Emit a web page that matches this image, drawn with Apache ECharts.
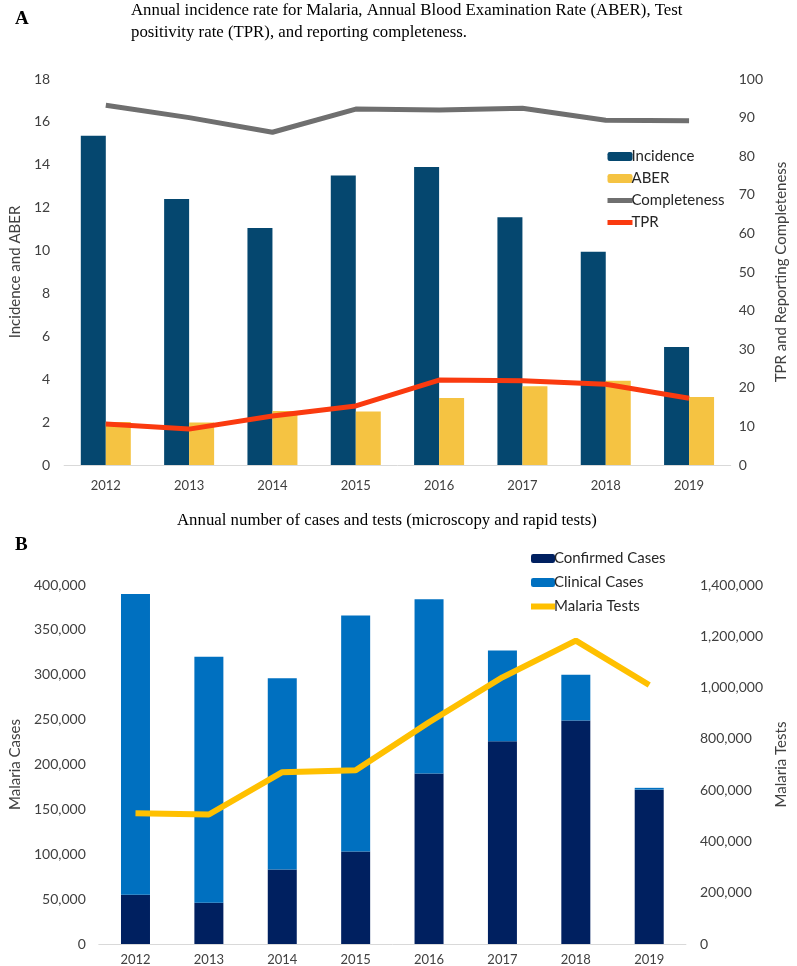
<!DOCTYPE html>
<html>
<head>
<meta charset="utf-8">
<script src="https://cdn.jsdelivr.net/npm/echarts@6/dist/echarts.min.js"></script>
<style>
html,body{margin:0;padding:0;background:#fff;}
#chart{width:797px;height:966px;}
</style>
</head>
<body>
<div id="chart"></div>
<script>
// ---- Data ----
const years = ['2012','2013','2014','2015','2016','2017','2018','2019'];
// Panel A
const incidence = [15.35, 12.4, 11.05, 13.5, 13.9, 11.55, 9.95, 5.5];
const aber = [2.0, 1.98, 2.52, 2.49, 3.12, 3.67, 3.93, 3.17];
const completeness = [93.2, 90.0, 86.2, 92.2, 92.0, 92.4, 89.3, 89.2];
const tpr = [10.6, 9.3, 12.7, 15.3, 22.0, 21.8, 20.9, 17.3];
// Panel B
const confirmed = [55000, 46000, 83000, 103000, 190000, 226000, 249000, 172000];
const clinical = [335000, 274000, 213000, 263000, 194000, 101000, 51000, 2000];
const tests = [510000, 505000, 670000, 678000, 865000, 1040000, 1183000, 1010000];

const titleA = 'Annual incidence rate for Malaria, Annual Blood Examination Rate (ABER), Test\npositivity rate (TPR), and reporting completeness.';
const titleB = 'Annual number of cases and tests (microscopy and rapid tests)';

const sans = 'Lato, "Open Sans", sans-serif';
const serif = '"Liberation Serif", "DejaVu Serif", serif';
const labelColor = '#404040';
const fmt = v => v.toLocaleString('en-US');

const chart = echarts.init(document.getElementById('chart'), null, {renderer:'canvas'});

const axisLabel = {color: labelColor, fontFamily: sans, fontSize: 14};
const nameStyle = {color: labelColor, fontFamily: sans, fontSize: 15};
const hideSym = {opacity: 0};

chart.setOption({
  animation: false,
  backgroundColor: '#fff',
  title: [
    {text: 'A', left: 10, top: 5, textStyle: {fontFamily: serif, fontWeight: 'bold', fontSize: 19, color: '#000'}},
    {text: titleA, left: 131, top: 0, padding: 0, textStyle: {fontFamily: serif, fontWeight: 'normal', fontSize: 16.8, lineHeight: 22, color: '#000'}},
    {text: 'B', left: 10, top: 531, textStyle: {fontFamily: serif, fontWeight: 'bold', fontSize: 19, color: '#000'}},
    {text: titleB, left: 172, top: 507, textStyle: {fontFamily: serif, fontWeight: 'normal', fontSize: 16.8, color: '#000'}}
  ],
  legend: [
    {
      orient: 'vertical', left: 600, top: 143, itemWidth: 25, itemHeight: 9, itemGap: 5,
      textStyle: {fontFamily: sans, fontSize: 15, color: '#262626', padding: [0,0,0,-6], lineHeight: 17},
      data: ['Incidence', 'ABER',
        {name: 'Completeness', itemStyle: hideSym, lineStyle: {width: 5}},
        {name: 'TPR', itemStyle: hideSym, lineStyle: {width: 5}}]
    },
    {
      orient: 'vertical', left: 523, top: 545, itemWidth: 24, itemHeight: 9, itemGap: 7,
      textStyle: {fontFamily: sans, fontSize: 15, color: '#262626', padding: [0,0,0,-6], lineHeight: 17},
      data: ['Confirmed Cases', 'Clinical Cases', {name: 'Malaria Tests', itemStyle: hideSym, lineStyle: {width: 6}}]
    }
  ],
  grid: [
    {left: 56, right: 58, top: 79, height: 386},
    {left: 85, right: 105, top: 585, height: 363}
  ],
  xAxis: [
    {type: 'category', gridIndex: 0, data: years,
     axisLine: {lineStyle: {color: '#D9D9D9', width: 1}}, axisTick: {show: false},
     axisLabel: {color: labelColor, fontFamily: sans, fontSize: 13, margin: 14}},
    {type: 'category', gridIndex: 1, data: years,
     axisLine: {lineStyle: {color: '#D9D9D9', width: 1}}, axisTick: {show: false},
     axisLabel: {color: labelColor, fontFamily: sans, fontSize: 13, margin: 9}}
  ],
  yAxis: [
    {type: 'value', gridIndex: 0, min: 0, max: 18, interval: 2, position: 'left',
     name: 'Incidence and ABER', nameLocation: 'middle', nameGap: 34, nameRotate: 90, nameTextStyle: nameStyle,
     axisLine: {show: false}, axisTick: {show: false}, splitLine: {show: false},
     axisLabel: Object.assign({margin: 14}, axisLabel)},
    {type: 'value', gridIndex: 0, min: 0, max: 100, interval: 10, position: 'right',
     name: 'TPR and Reporting Completeness', nameLocation: 'middle', nameGap: 41, nameRotate: 90, nameTextStyle: nameStyle,
     axisLine: {show: false}, axisTick: {show: false}, splitLine: {show: false},
     axisLabel: Object.assign({margin: 8}, axisLabel)},
    {type: 'value', gridIndex: 1, min: 0, max: 400000, interval: 50000, position: 'left',
     name: 'Malaria Cases', nameLocation: 'middle', nameGap: 64, nameRotate: 90, nameTextStyle: nameStyle,
     axisLine: {show: false}, axisTick: {show: false}, splitLine: {show: false},
     axisLabel: Object.assign({margin: 13, formatter: fmt}, axisLabel)},
    {type: 'value', gridIndex: 1, min: 0, max: 1400000, interval: 200000, position: 'right',
     name: 'Malaria Tests', nameLocation: 'middle', nameGap: 81, nameRotate: 90, nameTextStyle: nameStyle,
     axisLine: {show: false}, axisTick: {show: false}, splitLine: {show: false},
     axisLabel: Object.assign({margin: 14, formatter: fmt}, axisLabel)}
  ],
  series: [
    {name: 'Incidence', type: 'bar', xAxisIndex: 0, yAxisIndex: 0, data: incidence,
     barWidth: 25, barGap: '0%', itemStyle: {color: '#05476F'}},
    {name: 'ABER', type: 'bar', xAxisIndex: 0, yAxisIndex: 0, data: aber,
     barWidth: 25, barGap: '0%', itemStyle: {color: '#F5C342'}},
    {name: 'Completeness', type: 'line', xAxisIndex: 0, yAxisIndex: 1, data: completeness,
     symbol: 'none', lineStyle: {color: '#6F6F6F', width: 5}, itemStyle: {color: '#6F6F6F'}},
    {name: 'TPR', type: 'line', xAxisIndex: 0, yAxisIndex: 1, data: tpr,
     symbol: 'none', lineStyle: {color: '#FA3A0F', width: 5}, itemStyle: {color: '#FA3A0F'}},
    {name: 'Confirmed Cases', type: 'bar', xAxisIndex: 1, yAxisIndex: 2, data: confirmed, stack: 'cases',
     barWidth: 29, itemStyle: {color: '#002060'}},
    {name: 'Clinical Cases', type: 'bar', xAxisIndex: 1, yAxisIndex: 2, data: clinical, stack: 'cases',
     barWidth: 29, itemStyle: {color: '#0070C0'}},
    {name: 'Malaria Tests', type: 'line', xAxisIndex: 1, yAxisIndex: 3, data: tests,
     symbol: 'none', lineStyle: {color: '#FFC000', width: 6}, itemStyle: {color: '#FFC000'}}
  ]
});
</script>
</body>
</html>
